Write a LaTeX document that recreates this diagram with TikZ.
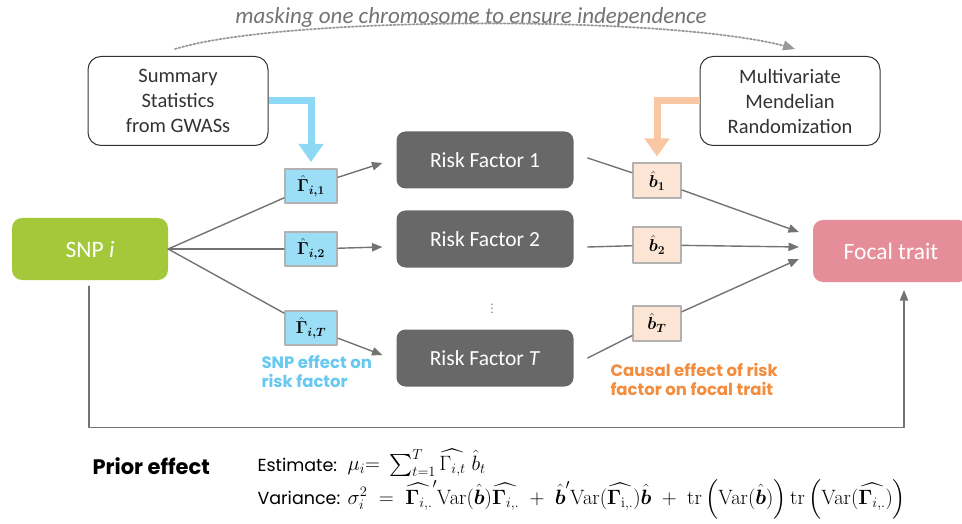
\documentclass[tikz,border=0pt]{standalone}
\usepackage{amsmath,amsfonts}
\usepackage[no-math]{fontspec}
\setmainfont{Carlito}
\newfontfamily\geofont{Poppins}
\usepackage{tikz}
\usetikzlibrary{arrows,arrows.meta,calc}
\definecolor{snpgreen}{RGB}{163,201,58}
\definecolor{focalpink}{RGB}{229,141,152}
\definecolor{rfgray}{RGB}{104,104,104}
\definecolor{gamblue}{RGB}{155,222,246}
\definecolor{arrblue}{RGB}{140,216,245}
\definecolor{bpeach}{RGB}{252,229,213}
\definecolor{arrpeach}{RGB}{249,199,163}
\definecolor{labblue}{RGB}{103,200,240}
\definecolor{laborange}{RGB}{243,140,60}
\definecolor{linegray}{RGB}{115,115,115}

\begin{document}
\begin{tikzpicture}[line cap=round,line join=round,>=triangle 45,x=1pt,y=-1pt,
    rfbox/.style={rounded corners=9pt,fill=rfgray,text=white,minimum width=177pt,minimum height=57pt,font=\fontsize{21.5}{25}\selectfont},
    srcbox/.style={draw=black!80,line width=1pt,rounded corners=13pt,fill=white,text=black!80,minimum width=180pt,minimum height=89pt,align=center,font=\fontsize{20.5}{25}\selectfont},
    gambox/.style={draw=black!30,line width=2pt,fill=gamblue,minimum width=52pt,minimum height=34pt,inner sep=0pt,font=\fontsize{18}{20}\selectfont},
    bbox/.style={draw=black!30,line width=2pt,fill=bpeach,minimum width=48pt,minimum height=35pt,inner sep=0pt,font=\fontsize{18}{20}\selectfont},
    endbox/.style={rounded corners=10pt,text=white,minimum height=62pt,font=\fontsize{23.5}{27}\selectfont},
    conn/.style={draw=linegray,line width=1.4pt},
    flow/.style={line width=7pt,line cap=butt,line join=miter,-{Triangle[width=24pt,length=18pt]}},
    note/.style={anchor=north west,align=left,font=\geofont\bfseries\fontsize{16.5}{19}\selectfont}]
\useasboundingbox (0,0) rectangle (962,524);

% sources
\node[srcbox] (sumstat) at (178,101) {Summary\\Statistics\\from GWASs};
\node[srcbox] (mvmr) at (790,101) {Multivariate\\Mendelian\\Randomization};
\node[text=black!55,font=\itshape\fontsize{23}{26}\selectfont] (mask) at (471,17) {masking one chromosome to ensure independence};
\draw[black!40,line width=1.8pt,dotted,->] ($(sumstat.north)+(-3,-7)$) .. controls +(110,-34) and +(-110,-34) .. ($(mvmr.north)+(5,-7)$);

% rows
\node[endbox,fill=snpgreen,minimum width=156pt] (snp) at (90,249) {SNP \textit{i}};
\node[endbox,fill=focalpink,minimum width=156pt] (focal) at (891,251) {Focal trait};
\foreach \k/\yrf/\yg/\yb/\num in {1/160/186/181/1,2/239/249/245/2,T/358/328/323/\textit{T}} {
  \node[rfbox] (rf\k) at (485,\yrf) {Risk Factor \num};
  \node[gambox] (g\k) at (311,\yg) {$\hat{\boldsymbol\Gamma}_{\boldsymbol{i,\k}}$};
  \node[bbox] (b\k) at (657,\yb) {$\hat{\boldsymbol b}_{\boldsymbol{\k}}$};
}
\node[text=black!50,font=\fontsize{13}{15}\selectfont] (dots) at (492,306) {$\vdots$};

\draw[flow,arrblue] (sumstat.east) -| ($(g1.north)+(0,-6)$);
\draw[flow,arrpeach] (mvmr.west) -| ($(b1.north)+(0,-6)$);

% SNP -> risk factors
\draw[conn] (snp.east) -- (g1);
\draw[conn] (snp.east) -- (g2);
\draw[conn] (snp.east) -- (gT);
\draw[conn,->] (g1) -- ($(rf1.west)+(-14,3)$);
\draw[conn,->] (g2) -- ($(rf2.west)+(-14,8)$);
\draw[conn,->] (gT) -- ($(rfT.west)+(-14,-3)$);
% risk factors -> focal trait
\draw[conn] ($(rf1.east)+(14,-2)$) -- (b1);
\draw[conn] ($(rf2.east)+(14,8)$) -- (b2);
\draw[conn] ($(rfT.east)+(14,0)$) -- (bT);
\draw[conn,->] (b1) -- ($(focal.west)+(-14,-19)$);
\draw[conn,->] (b2) -- ($(focal.west)+(-14,-4)$);
\draw[conn,->] (bT) -- ($(focal.west)+(-14,8)$);
\draw[conn,->] ($(snp.south)+(-1,6)$) |- ($(focal.south)+(13,145)$) -- ($(focal.south)+(13,8)$);

\node[note,text=labblue] (gamnote) at (258,352) {SNP effect on\\risk factor};
\node[note,text=laborange] (bnote) at (607,360) {Causal effect of risk\\factor on focal trait};

% prior
\node[anchor=west,font=\geofont\bfseries\fontsize{21}{24}\selectfont] (prior) at (89,466) {Prior effect};
\node[anchor=west,font=\geofont\fontsize{17.5}{22}\selectfont] (est) at (254,465) {Estimate:};
\node[anchor=west,font=\geofont\fontsize{17.5}{22}\selectfont] (var) at (254,498) {Variance:};
\node[anchor=west,font=\fontsize{22}{26}\selectfont] (mu) at (344,463) {$\textstyle\mu_i{=}\;\sum_{t=1}^{T}\widehat{\Gamma_{i,t}}\;\hat{b}_t$};
\node[anchor=west,font=\fontsize{22}{26}\selectfont] (sig) at (344,499) {\medmuskip=9mu\thickmuskip=10mu$\sigma_i^2=\widehat{\boldsymbol\Gamma_{i,.}}'\mathrm{Var}(\hat{\boldsymbol b})\widehat{\boldsymbol\Gamma_{i,.}}+\hat{\boldsymbol b}'\mathrm{Var}(\widehat{\boldsymbol\Gamma_{\mathrm{i},.}})\hat{\boldsymbol b}+\mathrm{tr}\left(\mathrm{Var}(\hat{\boldsymbol b})\right)\mathrm{tr}\left(\mathrm{Var}(\widehat{\boldsymbol\Gamma_{i,.}})\right)$};
\end{tikzpicture}
\end{document}
